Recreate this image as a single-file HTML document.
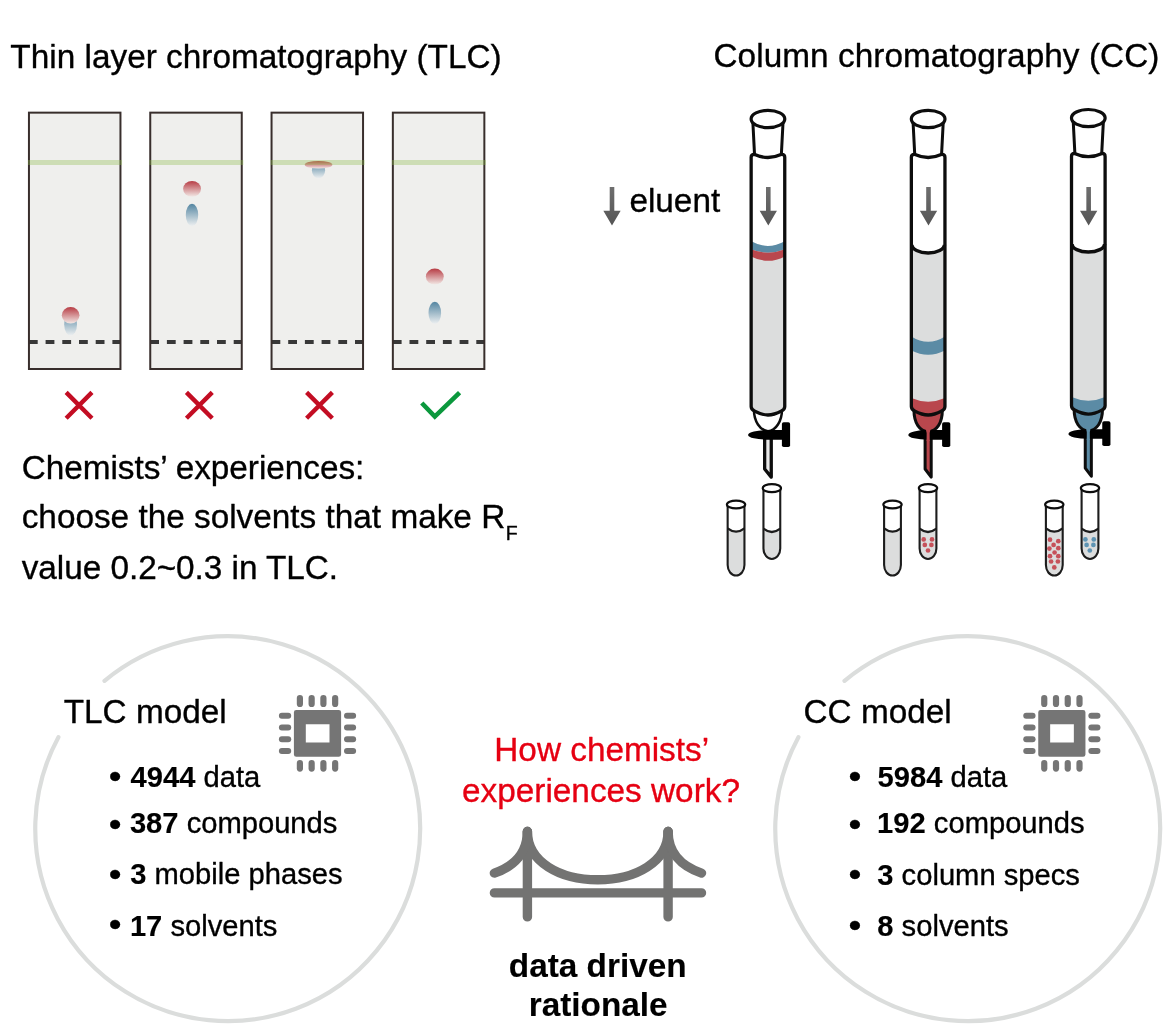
<!DOCTYPE html>
<html lang="en">
<head>
<meta charset="utf-8">
<title>TLC and CC</title>
<style>
html,body{margin:0;padding:0;background:#fff;}
body{width:1170px;height:1033px;overflow:hidden;position:relative;}
svg{position:absolute;left:0;top:0;display:block;}
text{font-family:"Liberation Sans",Arial,Helvetica,sans-serif;fill:#000;stroke:#000;stroke-width:0.35px;stroke-linejoin:round;}
.t{font-size:33.33px;}
.b{font-size:29.17px;}
.bold{font-weight:bold;stroke-width:0.12px;}
.red{fill:#e60012;stroke:#e60012;}
</style>
</head>
<body>
<svg width="1170" height="1033" viewBox="0 0 1170 1033" role="img" aria-label="Thin layer chromatography and column chromatography models">
<defs>
<linearGradient id="gr" x1="0" y1="0" x2="0" y2="1">
<stop offset="0" stop-color="#b73c44"/>
<stop offset="1" stop-color="#f2e9e6"/>
</linearGradient>
<linearGradient id="gb" x1="0" y1="0" x2="0" y2="1">
<stop offset="0" stop-color="#5385a1"/>
<stop offset="1" stop-color="#eef0f1"/>
</linearGradient>
<linearGradient id="go" x1="0" y1="0" x2="0" y2="1">
<stop offset="0" stop-color="#b3744a"/>
<stop offset="0.53" stop-color="#b9a070"/>
<stop offset="0.54" stop-color="#d99c98"/>
<stop offset="1" stop-color="#f3e6e3"/>
</linearGradient>
<linearGradient id="ga" x1="0" y1="0" x2="0" y2="1">
<stop offset="0" stop-color="#6e6e6e"/>
<stop offset="1" stop-color="#555555"/>
</linearGradient>
</defs>

<text class="t" x="10.3" y="67.5" letter-spacing="0.017">Thin layer chromatography (TLC)</text>
<text class="t" x="713.5" y="67.4" letter-spacing="0.055">Column chromatography (CC)</text>
<g>
<rect x="28.95" y="112.65" width="91.5" height="256.35" fill="#efefed"/>
<ellipse cx="70.6" cy="324.2" rx="6.4" ry="11.5" fill="url(#gb)"/>
<ellipse cx="70.65" cy="315.3" rx="8.85" ry="8.3" fill="url(#gr)"/>
<line x1="28.90" y1="341.95" x2="120.45" y2="341.95" stroke="#383838" stroke-width="4.0" stroke-dasharray="8.8 7.9"/>
<rect x="28.95" y="112.65" width="91.5" height="256.35" fill="none" stroke="#382e2c" stroke-width="2.0"/>
<rect x="27.95" y="160" width="94.10" height="5" fill="#90bc4d" fill-opacity="0.35"/>
</g>
<g>
<rect x="150.25" y="112.65" width="91.5" height="256.35" fill="#efefed"/>
<ellipse cx="192.05" cy="188.85" rx="8.95" ry="7.95" fill="url(#gr)"/>
<ellipse cx="192" cy="214.95" rx="6.2" ry="11.25" fill="url(#gb)"/>
<line x1="150.20" y1="341.95" x2="241.75" y2="341.95" stroke="#383838" stroke-width="4.0" stroke-dasharray="8.8 7.9"/>
<rect x="150.25" y="112.65" width="91.5" height="256.35" fill="none" stroke="#382e2c" stroke-width="2.0"/>
<rect x="149.25" y="160" width="94.10" height="5" fill="#90bc4d" fill-opacity="0.35"/>
</g>
<g>
<rect x="271.55" y="112.65" width="91.5" height="256.35" fill="#efefed"/>
<ellipse cx="318.5" cy="170.2" rx="6.6" ry="8.3" fill="url(#gb)"/>
<ellipse cx="318.55" cy="164.75" rx="13.85" ry="3.85" fill="url(#gr)"/>
<line x1="271.50" y1="341.95" x2="363.05" y2="341.95" stroke="#383838" stroke-width="4.0" stroke-dasharray="8.8 7.9"/>
<rect x="271.55" y="112.65" width="91.5" height="256.35" fill="none" stroke="#382e2c" stroke-width="2.0"/>
<rect x="270.55" y="160" width="94.10" height="5" fill="#90bc4d" fill-opacity="0.35"/>
</g>
<g>
<rect x="392.85" y="112.65" width="91.5" height="256.35" fill="#efefed"/>
<ellipse cx="434.8" cy="276.6" rx="8.95" ry="8.0" fill="url(#gr)"/>
<ellipse cx="434.8" cy="312.9" rx="6.3" ry="11.2" fill="url(#gb)"/>
<line x1="392.80" y1="341.95" x2="484.35" y2="341.95" stroke="#383838" stroke-width="4.0" stroke-dasharray="8.8 7.9"/>
<rect x="392.85" y="112.65" width="91.5" height="256.35" fill="none" stroke="#382e2c" stroke-width="2.0"/>
<rect x="391.85" y="160" width="94.10" height="5" fill="#90bc4d" fill-opacity="0.35"/>
</g>
<path d="M66.15,392.40 L91.95,418.20 M91.95,392.40 L66.15,418.20" stroke="#c30d23" stroke-width="4.4" fill="none"/>
<path d="M186.45,392.40 L212.25,418.20 M212.25,392.40 L186.45,418.20" stroke="#c30d23" stroke-width="4.4" fill="none"/>
<path d="M306.60,392.40 L332.40,418.20 M332.40,392.40 L306.60,418.20" stroke="#c30d23" stroke-width="4.4" fill="none"/>
<path d="M421.8,403.0 L434.8,416.6 L459.6,392.6" stroke="#0b983d" stroke-width="4.6" fill="none" stroke-linejoin="miter"/>
<text class="t" x="21.7" y="478.6" letter-spacing="-0.033">Chemists’ experiences:</text>
<text class="t" x="21.7" y="528.4">choose the solvents that make R<tspan font-size="19.5" dx="0.4" dy="11.2">F</tspan></text>
<text class="t" x="21.7" y="578.6" letter-spacing="-0.035">value 0.2~0.3 in TLC.</text>
<path d="M609.70,187.0 L614.30,187.0 L614.30,210.8 L620.65,210.8 L612.00,225.4 L603.35,210.8 L609.70,210.8 Z" fill="url(#ga)"/>
<text class="t" x="629.4" y="212.0">eluent</text>
<g transform="translate(0,0)">
<path d="M753.95,410 C753.95,421 759.95,430.5 767.95,431.3 C775.95,430.5 781.95,421 781.95,410 Z" fill="#fff" stroke="#0d0d0d" stroke-width="2.5"/>
<path d="M751.15,157.3 L751.15,406.6 C751.15,409 752.35,410 754.35,411 C758.15,413 763.15,415.0 767.95,415.0 C772.75,415.0 777.75,413 781.55,411 C783.55,410 784.75,409 784.75,406.6 L784.75,157.3 Q784.75,154.3 781.75,154.3 Q767.95,160.70 754.15,154.3 Q751.15,154.3 751.15,157.3 Z" fill="#fff"/>
<path d="M751.15,241.23 Q767.95,250.57 784.75,241.23 L784.75,406.6 C784.75,409 783.55,410 781.55,411 C777.75,413 772.75,415.0 767.95,415.0 C763.15,415.0 758.15,413 754.35,411 C752.35,410 751.15,409 751.15,406.6 Z" fill="#dcdddd"/>
<path d="M751.15,241.23 Q767.95,250.57 784.75,241.23 L784.75,249.36 Q767.95,256.24 751.15,249.36 Z" fill="#5b8ba5"/>
<path d="M751.15,249.36 Q767.95,256.24 784.75,249.36 L784.75,256.38 Q767.95,265.22 751.15,256.38 Z" fill="#b9474d"/>
<path d="M751.15,157.3 L751.15,406.6 C751.15,409 752.35,410 754.35,411 C758.15,413 763.15,415.0 767.95,415.0 C772.75,415.0 777.75,413 781.55,411 C783.55,410 784.75,409 784.75,406.6 L784.75,157.3 Q784.75,154.3 781.75,154.3 Q767.95,160.70 754.15,154.3 Q751.15,154.3 751.15,157.3 Z" fill="none" stroke="#0d0d0d" stroke-width="3.3" stroke-linejoin="round"/>
<path d="M752.70,119 L754.55,154.8 M783.20,119 L781.35,154.8" fill="none" stroke="#0d0d0d" stroke-width="3"/>
<ellipse cx="767.95" cy="119" rx="16.85" ry="8.6" fill="#fff" stroke="#0d0d0d" stroke-width="3.2"/>
<path d="M764.65,436 L764.65,469 L771.25,477.1 L771.25,436 Z" fill="#e8e8e8" stroke="#0d0d0d" stroke-width="3.3" stroke-linejoin="round"/>
<path d="M767.95,430.1 L782.95,430.1 L782.95,439.7 L767.95,439.7 A19.85 4.8 0 0 1 767.95,430.1 Z" fill="#000"/>
<rect x="781.90" y="422.2" width="8.2" height="24.8" rx="1.8" fill="#000"/>
</g>
<g transform="translate(0,0)">
<path d="M913.95,410 C913.95,423 919.65,431.5 928.15,431.5 C936.65,431.5 942.35,423 942.35,410 Z" fill="#b9474d" stroke="#0d0d0d" stroke-width="3"/>
<path d="M911.35,157.3 L911.35,406.6 C911.35,409 912.55,410 914.55,411 C918.35,413 923.35,415.0 928.15,415.0 C932.95,415.0 937.95,413 941.75,411 C943.75,410 944.95,409 944.95,406.6 L944.95,157.3 Q944.95,154.3 941.95,154.3 Q928.15,160.70 914.35,154.3 Q911.35,154.3 911.35,157.3 Z" fill="#fff"/>
<path d="M911.35,244.8 A16.8 8.1 0 0 0 944.95,244.8 L944.95,406.6 C944.95,409 943.75,410 941.75,411 C937.95,413 932.95,415.0 928.15,415.0 C923.35,415.0 918.35,413 914.55,411 C912.55,410 911.35,409 911.35,406.6 Z" fill="#dcdddd"/>
<path d="M911.35,336.39 Q928.15,347.21 944.95,336.39 L944.95,350.62 Q928.15,358.98 911.35,350.62 Z" fill="#5b8ba5"/>
<path d="M911.35,398.01 Q928.15,405.39 944.95,398.01 L944.95,406.6 C944.95,409 943.75,410 941.75,411 C937.95,413 932.95,415.0 928.15,415.0 C923.35,415.0 918.35,413 914.55,411 C912.55,410 911.35,409 911.35,406.6 Z" fill="#b9474d"/>
<path d="M911.85,244.8 A16.3 8.1 0 0 0 944.45,244.8" fill="none" stroke="#0d0d0d" stroke-width="3.5"/>
<path d="M911.35,157.3 L911.35,406.6 C911.35,409 912.55,410 914.55,411 C918.35,413 923.35,415.0 928.15,415.0 C932.95,415.0 937.95,413 941.75,411 C943.75,410 944.95,409 944.95,406.6 L944.95,157.3 Q944.95,154.3 941.95,154.3 Q928.15,160.70 914.35,154.3 Q911.35,154.3 911.35,157.3 Z" fill="none" stroke="#0d0d0d" stroke-width="3.3" stroke-linejoin="round"/>
<path d="M912.90,119 L914.75,154.8 M943.40,119 L941.55,154.8" fill="none" stroke="#0d0d0d" stroke-width="3"/>
<ellipse cx="928.15" cy="119" rx="16.85" ry="8.6" fill="#fff" stroke="#0d0d0d" stroke-width="3.2"/>
<path d="M925.10,436 L925.10,469 L931.20,477.1 L931.20,436 Z" fill="#b9474d" stroke="#0d0d0d" stroke-width="3.0" stroke-linejoin="round"/>
<path d="M928.15,430.1 L943.15,430.1 L943.15,439.7 L928.15,439.7 A19.85 4.8 0 0 1 928.15,430.1 Z" fill="#000"/>
<rect x="942.10" y="422.2" width="8.2" height="24.8" rx="1.8" fill="#000"/>
<path d="M925.75,429 L930.55,429 L929.65,433 L929.70,441 L926.60,441 L926.65,433 Z" fill="#b9474d"/>
</g>
<g transform="translate(0,-0.9)">
<path d="M1074.10,410 C1074.10,423 1079.80,431.5 1088.30,431.5 C1096.80,431.5 1102.50,423 1102.50,410 Z" fill="#5b8ba5" stroke="#0d0d0d" stroke-width="3"/>
<path d="M1071.50,157.3 L1071.50,406.6 C1071.50,409 1072.70,410 1074.70,411 C1078.50,413 1083.50,415.0 1088.30,415.0 C1093.10,415.0 1098.10,413 1101.90,411 C1103.90,410 1105.10,409 1105.10,406.6 L1105.10,157.3 Q1105.10,154.3 1102.10,154.3 Q1088.30,160.70 1074.50,154.3 Q1071.50,154.3 1071.50,157.3 Z" fill="#fff"/>
<path d="M1071.50,244.8 A16.8 8.1 0 0 0 1105.10,244.8 L1105.10,406.6 C1105.10,409 1103.90,410 1101.90,411 C1098.10,413 1093.10,415.0 1088.30,415.0 C1083.50,415.0 1078.50,413 1074.70,411 C1072.70,410 1071.50,409 1071.50,406.6 Z" fill="#dcdddd"/>
<path d="M1071.50,398.01 Q1088.30,405.39 1105.10,398.01 L1105.10,406.6 C1105.10,409 1103.90,410 1101.90,411 C1098.10,413 1093.10,415.0 1088.30,415.0 C1083.50,415.0 1078.50,413 1074.70,411 C1072.70,410 1071.50,409 1071.50,406.6 Z" fill="#5b8ba5"/>
<path d="M1072.00,244.8 A16.3 8.1 0 0 0 1104.60,244.8" fill="none" stroke="#0d0d0d" stroke-width="3.5"/>
<path d="M1071.50,157.3 L1071.50,406.6 C1071.50,409 1072.70,410 1074.70,411 C1078.50,413 1083.50,415.0 1088.30,415.0 C1093.10,415.0 1098.10,413 1101.90,411 C1103.90,410 1105.10,409 1105.10,406.6 L1105.10,157.3 Q1105.10,154.3 1102.10,154.3 Q1088.30,160.70 1074.50,154.3 Q1071.50,154.3 1071.50,157.3 Z" fill="none" stroke="#0d0d0d" stroke-width="3.3" stroke-linejoin="round"/>
<path d="M1073.05,119 L1074.90,154.8 M1103.55,119 L1101.70,154.8" fill="none" stroke="#0d0d0d" stroke-width="3"/>
<ellipse cx="1088.30" cy="119" rx="16.85" ry="8.6" fill="#fff" stroke="#0d0d0d" stroke-width="3.2"/>
<path d="M1085.25,436 L1085.25,469 L1091.35,477.1 L1091.35,436 Z" fill="#5b8ba5" stroke="#0d0d0d" stroke-width="3.0" stroke-linejoin="round"/>
<path d="M1088.30,430.1 L1103.30,430.1 L1103.30,439.7 L1088.30,439.7 A19.85 4.8 0 0 1 1088.30,430.1 Z" fill="#000"/>
<rect x="1102.25" y="422.2" width="8.2" height="24.8" rx="1.8" fill="#000"/>
<path d="M1085.90,429 L1090.70,429 L1089.80,433 L1089.85,441 L1086.75,441 L1086.80,433 Z" fill="#5b8ba5"/>
</g>
<path d="M766.00,187.0 L770.60,187.0 L770.60,210.8 L776.95,210.8 L768.30,225.4 L759.65,210.8 L766.00,210.8 Z" fill="url(#ga)"/>
<path d="M926.20,187.0 L930.80,187.0 L930.80,210.8 L937.15,210.8 L928.50,225.4 L919.85,210.8 L926.20,210.8 Z" fill="url(#ga)"/>
<path d="M1086.35,187.0 L1090.95,187.0 L1090.95,210.8 L1097.30,210.8 L1088.65,225.4 L1080.00,210.8 L1086.35,210.8 Z" fill="url(#ga)"/>
<path d="M727.65,504.5 L727.65,565.05 C727.65,570.85 731.41,575.55 736.05,575.55 C740.69,575.55 744.45,570.85 744.45,565.05 L744.45,504.5 Z" fill="#fff"/>
<path d="M727.65,528.40 Q736.05,535.00 744.45,528.40 L744.45,565.05 C744.45,570.85 740.69,575.55 736.05,575.55 C731.41,575.55 727.65,570.85 727.65,565.05 Z" fill="#dcdddd"/>
<path d="M727.65,528.40 Q736.05,535.00 744.45,528.40" fill="none" stroke="#1c1c1c" stroke-width="2.2"/>
<path d="M727.65,504.5 L727.65,565.05 C727.65,570.85 731.41,575.55 736.05,575.55 C740.69,575.55 744.45,570.85 744.45,565.05 L744.45,504.5 Z" fill="none" stroke="#1c1c1c" stroke-width="2.1"/>
<ellipse cx="736.05" cy="504.5" rx="9.15" ry="3.95" fill="#fff" stroke="#0d0d0d" stroke-width="2.2"/>
<path d="M763.45,488.15 L763.45,548.45 C763.45,554.25 767.21,558.95 771.85,558.95 C776.49,558.95 780.25,554.25 780.25,548.45 L780.25,488.15 Z" fill="#fff"/>
<path d="M763.45,528.70 Q771.85,535.30 780.25,528.70 L780.25,548.45 C780.25,554.25 776.49,558.95 771.85,558.95 C767.21,558.95 763.45,554.25 763.45,548.45 Z" fill="#dcdddd"/>
<path d="M763.45,528.70 Q771.85,535.30 780.25,528.70" fill="none" stroke="#1c1c1c" stroke-width="2.2"/>
<path d="M763.45,488.15 L763.45,548.45 C763.45,554.25 767.21,558.95 771.85,558.95 C776.49,558.95 780.25,554.25 780.25,548.45 L780.25,488.15 Z" fill="none" stroke="#1c1c1c" stroke-width="2.1"/>
<ellipse cx="771.85" cy="488.15" rx="9.15" ry="3.95" fill="#fff" stroke="#0d0d0d" stroke-width="2.2"/>
<path d="M884.10,504.5 L884.10,565.05 C884.10,570.85 887.86,575.55 892.50,575.55 C897.14,575.55 900.90,570.85 900.90,565.05 L900.90,504.5 Z" fill="#fff"/>
<path d="M884.10,528.40 Q892.50,535.00 900.90,528.40 L900.90,565.05 C900.90,570.85 897.14,575.55 892.50,575.55 C887.86,575.55 884.10,570.85 884.10,565.05 Z" fill="#dcdddd"/>
<path d="M884.10,528.40 Q892.50,535.00 900.90,528.40" fill="none" stroke="#1c1c1c" stroke-width="2.2"/>
<path d="M884.10,504.5 L884.10,565.05 C884.10,570.85 887.86,575.55 892.50,575.55 C897.14,575.55 900.90,570.85 900.90,565.05 L900.90,504.5 Z" fill="none" stroke="#1c1c1c" stroke-width="2.1"/>
<ellipse cx="892.50" cy="504.5" rx="9.15" ry="3.95" fill="#fff" stroke="#0d0d0d" stroke-width="2.2"/>
<path d="M919.60,488.1 L919.60,548.45 C919.60,554.25 923.36,558.95 928.00,558.95 C932.64,558.95 936.40,554.25 936.40,548.45 L936.40,488.1 Z" fill="#fff"/>
<path d="M919.60,528.70 Q928.00,535.30 936.40,528.70 L936.40,548.45 C936.40,554.25 932.64,558.95 928.00,558.95 C923.36,558.95 919.60,554.25 919.60,548.45 Z" fill="#dcdddd"/>
<circle cx="923.7" cy="539.4" r="2.35" fill="#c6515a"/>
<circle cx="932" cy="539.4" r="2.35" fill="#c6515a"/>
<circle cx="924.8" cy="544.9" r="2.35" fill="#c6515a"/>
<circle cx="931.4" cy="544.9" r="2.35" fill="#c6515a"/>
<circle cx="928" cy="550.5" r="2.35" fill="#c6515a"/>
<path d="M919.60,528.70 Q928.00,535.30 936.40,528.70" fill="none" stroke="#1c1c1c" stroke-width="2.2"/>
<path d="M919.60,488.1 L919.60,548.45 C919.60,554.25 923.36,558.95 928.00,558.95 C932.64,558.95 936.40,554.25 936.40,548.45 L936.40,488.1 Z" fill="none" stroke="#1c1c1c" stroke-width="2.1"/>
<ellipse cx="928.00" cy="488.1" rx="9.15" ry="3.95" fill="#fff" stroke="#0d0d0d" stroke-width="2.2"/>
<path d="M1045.90,504.5 L1045.90,565.05 C1045.90,570.85 1049.66,575.55 1054.30,575.55 C1058.94,575.55 1062.70,570.85 1062.70,565.05 L1062.70,504.5 Z" fill="#fff"/>
<path d="M1045.90,528.40 Q1054.30,535.00 1062.70,528.40 L1062.70,565.05 C1062.70,570.85 1058.94,575.55 1054.30,575.55 C1049.66,575.55 1045.90,570.85 1045.90,565.05 Z" fill="#dcdddd"/>
<circle cx="1050" cy="539.7" r="2.35" fill="#c6515a"/>
<circle cx="1058.3" cy="541.2" r="2.35" fill="#c6515a"/>
<circle cx="1053.6" cy="544.9" r="2.35" fill="#c6515a"/>
<circle cx="1049.4" cy="548.6" r="2.35" fill="#c6515a"/>
<circle cx="1058.3" cy="548.2" r="2.35" fill="#c6515a"/>
<circle cx="1054.6" cy="552.5" r="2.35" fill="#c6515a"/>
<circle cx="1050" cy="556.2" r="2.35" fill="#c6515a"/>
<circle cx="1058.3" cy="556.2" r="2.35" fill="#c6515a"/>
<circle cx="1051.1" cy="561.5" r="2.35" fill="#c6515a"/>
<circle cx="1057.9" cy="561.5" r="2.35" fill="#c6515a"/>
<circle cx="1054.3" cy="567.4" r="2.35" fill="#c6515a"/>
<path d="M1045.90,528.40 Q1054.30,535.00 1062.70,528.40" fill="none" stroke="#1c1c1c" stroke-width="2.2"/>
<path d="M1045.90,504.5 L1045.90,565.05 C1045.90,570.85 1049.66,575.55 1054.30,575.55 C1058.94,575.55 1062.70,570.85 1062.70,565.05 L1062.70,504.5 Z" fill="none" stroke="#1c1c1c" stroke-width="2.1"/>
<ellipse cx="1054.30" cy="504.5" rx="9.15" ry="3.95" fill="#fff" stroke="#0d0d0d" stroke-width="2.2"/>
<path d="M1081.60,488.1 L1081.60,548.45 C1081.60,554.25 1085.36,558.95 1090.00,558.95 C1094.64,558.95 1098.40,554.25 1098.40,548.45 L1098.40,488.1 Z" fill="#fff"/>
<path d="M1081.60,528.70 Q1090.00,535.30 1098.40,528.70 L1098.40,548.45 C1098.40,554.25 1094.64,558.95 1090.00,558.95 C1085.36,558.95 1081.60,554.25 1081.60,548.45 Z" fill="#dcdddd"/>
<circle cx="1085.4" cy="539.4" r="2.35" fill="#5e94b3"/>
<circle cx="1093.8" cy="539.4" r="2.35" fill="#5e94b3"/>
<circle cx="1086.6" cy="544.9" r="2.35" fill="#5e94b3"/>
<circle cx="1093.4" cy="544.9" r="2.35" fill="#5e94b3"/>
<circle cx="1089.8" cy="550.5" r="2.35" fill="#5e94b3"/>
<path d="M1081.60,528.70 Q1090.00,535.30 1098.40,528.70" fill="none" stroke="#1c1c1c" stroke-width="2.2"/>
<path d="M1081.60,488.1 L1081.60,548.45 C1081.60,554.25 1085.36,558.95 1090.00,558.95 C1094.64,558.95 1098.40,554.25 1098.40,548.45 L1098.40,488.1 Z" fill="none" stroke="#1c1c1c" stroke-width="2.1"/>
<ellipse cx="1090.00" cy="488.1" rx="9.15" ry="3.95" fill="#fff" stroke="#0d0d0d" stroke-width="2.2"/>
<path d="M104.51,680.84 A192.45 192.45 0 1 1 58.41,737.17" fill="none" stroke="#dbdddc" stroke-width="4.2" stroke-linecap="round"/>
<path d="M844.51,680.84 A192.45 192.45 0 1 1 798.41,737.17" fill="none" stroke="#dbdddc" stroke-width="4.2" stroke-linecap="round"/>
<g fill="#757575">
<path fill-rule="evenodd" d="M296.30,709.90 h42.4 a2.4 2.4 0 0 1 2.4 2.4 v42.1 a2.4 2.4 0 0 1 -2.4 2.4 h-42.4 a2.4 2.4 0 0 1 -2.4 -2.4 v-42.1 a2.4 2.4 0 0 1 2.4 -2.4 Z M305.80,724.20 v18.4 h23.7 v-18.4 Z"/>
<rect x="296.80" y="694.90" width="6.2" height="12.1" rx="3.1"/>
<rect x="296.80" y="760.00" width="6.2" height="11.7" rx="3.1"/>
<rect x="278.90" y="712.80" width="12.3" height="6.0" rx="3"/>
<rect x="344.00" y="712.80" width="12.1" height="6.0" rx="3"/>
<rect x="308.55" y="694.90" width="6.2" height="12.1" rx="3.1"/>
<rect x="308.55" y="760.00" width="6.2" height="11.7" rx="3.1"/>
<rect x="278.90" y="724.55" width="12.3" height="6.0" rx="3"/>
<rect x="344.00" y="724.55" width="12.1" height="6.0" rx="3"/>
<rect x="320.30" y="694.90" width="6.2" height="12.1" rx="3.1"/>
<rect x="320.30" y="760.00" width="6.2" height="11.7" rx="3.1"/>
<rect x="278.90" y="736.30" width="12.3" height="6.0" rx="3"/>
<rect x="344.00" y="736.30" width="12.1" height="6.0" rx="3"/>
<rect x="332.05" y="694.90" width="6.2" height="12.1" rx="3.1"/>
<rect x="332.05" y="760.00" width="6.2" height="11.7" rx="3.1"/>
<rect x="278.90" y="748.05" width="12.3" height="6.0" rx="3"/>
<rect x="344.00" y="748.05" width="12.1" height="6.0" rx="3"/>
</g>
<g fill="#757575">
<path fill-rule="evenodd" d="M1040.65,709.90 h42.4 a2.4 2.4 0 0 1 2.4 2.4 v42.1 a2.4 2.4 0 0 1 -2.4 2.4 h-42.4 a2.4 2.4 0 0 1 -2.4 -2.4 v-42.1 a2.4 2.4 0 0 1 2.4 -2.4 Z M1050.15,724.20 v18.4 h23.7 v-18.4 Z"/>
<rect x="1041.15" y="694.90" width="6.2" height="12.1" rx="3.1"/>
<rect x="1041.15" y="760.00" width="6.2" height="11.7" rx="3.1"/>
<rect x="1023.25" y="712.80" width="12.3" height="6.0" rx="3"/>
<rect x="1088.35" y="712.80" width="12.1" height="6.0" rx="3"/>
<rect x="1052.90" y="694.90" width="6.2" height="12.1" rx="3.1"/>
<rect x="1052.90" y="760.00" width="6.2" height="11.7" rx="3.1"/>
<rect x="1023.25" y="724.55" width="12.3" height="6.0" rx="3"/>
<rect x="1088.35" y="724.55" width="12.1" height="6.0" rx="3"/>
<rect x="1064.65" y="694.90" width="6.2" height="12.1" rx="3.1"/>
<rect x="1064.65" y="760.00" width="6.2" height="11.7" rx="3.1"/>
<rect x="1023.25" y="736.30" width="12.3" height="6.0" rx="3"/>
<rect x="1088.35" y="736.30" width="12.1" height="6.0" rx="3"/>
<rect x="1076.40" y="694.90" width="6.2" height="12.1" rx="3.1"/>
<rect x="1076.40" y="760.00" width="6.2" height="11.7" rx="3.1"/>
<rect x="1023.25" y="748.05" width="12.3" height="6.0" rx="3"/>
<rect x="1088.35" y="748.05" width="12.1" height="6.0" rx="3"/>
</g>
<text class="t" x="63.7" y="723.2">TLC model</text>
<text class="t" x="803.5" y="723.2">CC model</text>
<text transform="translate(115.2,776.45) scale(1,0.92)" y="12.09" text-anchor="middle" font-size="36.5" stroke="none">•</text>
<text class="b" x="130.6" y="786.7"><tspan class="bold">4944</tspan> data</text>
<text transform="translate(115.2,824.85) scale(1,0.92)" y="12.09" text-anchor="middle" font-size="36.5" stroke="none">•</text>
<text class="b" x="129.9" y="832.7"><tspan class="bold">387</tspan> compounds</text>
<text transform="translate(115.2,874.65) scale(1,0.92)" y="12.09" text-anchor="middle" font-size="36.5" stroke="none">•</text>
<text class="b" x="130.2" y="884.0"><tspan class="bold">3</tspan> mobile phases</text>
<text transform="translate(115.2,925.35) scale(1,0.92)" y="12.09" text-anchor="middle" font-size="36.5" stroke="none">•</text>
<text class="b" x="129.9" y="935.6"><tspan class="bold">17</tspan> solvents</text>
<text transform="translate(855,776.60) scale(1,0.92)" y="12.22" text-anchor="middle" font-size="36.9" stroke="none">•</text>
<text class="b" x="877.5" y="786.7"><tspan class="bold">5984</tspan> data</text>
<text transform="translate(855,825.20) scale(1,0.92)" y="12.22" text-anchor="middle" font-size="36.9" stroke="none">•</text>
<text class="b" x="877.1" y="832.7"><tspan class="bold">192</tspan> compounds</text>
<text transform="translate(855,875.10) scale(1,0.92)" y="12.22" text-anchor="middle" font-size="36.9" stroke="none">•</text>
<text class="b" x="877.3" y="884.5"><tspan class="bold">3</tspan> column specs</text>
<text transform="translate(855,925.80) scale(1,0.92)" y="12.22" text-anchor="middle" font-size="36.9" stroke="none">•</text>
<text class="b" x="877.3" y="936.1"><tspan class="bold">8</tspan> solvents</text>
<text class="t red" x="601.7" y="761.4" text-anchor="middle">How chemists’</text>
<text class="t red" x="601" y="801.5" text-anchor="middle">experiences work?</text>
<g fill="none" stroke="#737372" stroke-width="9.4" stroke-linecap="round">
<path d="M527.4,831.5 L527.4,916.9 M668.1,831.5 L668.1,916.9 M494.4,892.9 L701.5,892.9"/>
<path d="M527.4,831.5 C527.4,862 560,879.8 597.8,879.8 C635.5,879.8 668.1,862 668.1,831.5"/>
<path d="M527.4,831.5 C527.4,852 515,866 494.4,873.1 M668.1,831.5 C668.1,852 680.5,866 701.5,873.1"/>
</g>
<text class="t bold" x="597.7" y="976.6" text-anchor="middle">data driven</text>
<text class="t bold" x="598.2" y="1016.1" text-anchor="middle">rationale</text>
</svg>
</body>
</html>
